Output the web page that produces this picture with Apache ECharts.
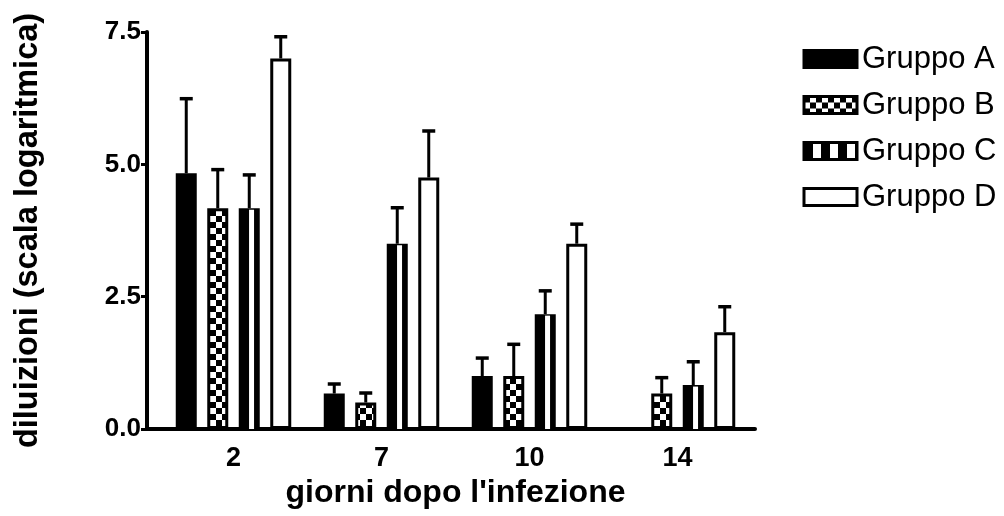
<!DOCTYPE html>
<html>
<head>
<meta charset="utf-8">
<script src="https://cdn.jsdelivr.net/npm/echarts@6/dist/echarts.min.js"></script>
<style>
  html, body { margin: 0; padding: 0; background: #fff; }
  #chart { width: 1004px; height: 516px; }
</style>
</head>
<body>
<div id="chart"></div>
<script>
// Giorni dopo l'infezione (categorie dell'asse x)
const categories = ['2', '7', '10', '14'];
const seriesNames = ['Gruppo A', 'Gruppo B', 'Gruppo C', 'Gruppo D'];

// Medie per gruppo (diluizioni, scala logaritmica)
const gruppoA = [4.83, 0.67, 1.0, 0];
const gruppoB = [4.17, 0.5, 1.0, 0.67];
const gruppoC = [4.17, 3.5, 2.17, 0.83];
const gruppoD = [7.0, 4.75, 3.5, 1.83];

// Errore (barra superiore) per gruppo
const erroreA = [1.41, 0.18, 0.34, 0];
const erroreB = [0.73, 0.18, 0.60, 0.30];
const erroreC = [0.63, 0.68, 0.44, 0.44];
const erroreD = [0.41, 0.88, 0.37, 0.48];

// Tacche dell'asse y
const yTicks = [0, 2.5, 5, 7.5];

const FONT = "'Liberation Sans', Arial, Helvetica, sans-serif";
const BAR_WIDTH = 21;
const BAR_GAP = 0.5;
const STEP = BAR_WIDTH * (1 + BAR_GAP);
const BORDER = 3;

// Riempimenti a motivo
function checkerPattern() {
  const c = document.createElement('canvas');
  c.width = 12; c.height = 12;
  const g = c.getContext('2d');
  g.fillStyle = '#fff'; g.fillRect(0, 0, 12, 12);
  g.fillStyle = '#000';
  g.fillRect(0, 0, 6, 6);
  g.fillRect(6, 6, 6, 6);
  return { image: c, repeat: 'repeat' };
}
function stripePattern() {
  const c = document.createElement('canvas');
  c.width = 17; c.height = 4;
  const g = c.getContext('2d');
  g.fillStyle = '#000'; g.fillRect(0, 0, 17, 4);
  g.fillStyle = '#fff'; g.fillRect(9, 0, 8, 4);
  return { image: c, repeat: 'repeat' };
}

const checker = checkerPattern();
const stripes = stripePattern();

const means = [gruppoA, gruppoB, gruppoC, gruppoD];
const errors = [erroreA, erroreB, erroreC, erroreD];
const fills = ['#000', checker, '#000', '#fff'];
const legendFills = ['#000', checker, stripes, '#fff'];

const barSeries = seriesNames.map((name, s) => ({
  name: name,
  type: 'bar',
  data: means[s],
  barWidth: BAR_WIDTH,
  barGap: (BAR_GAP * 100) + '%',
  itemStyle: { color: fills[s], borderColor: '#000', borderWidth: BORDER },
  emphasis: { disabled: true },
  z: 2
}));

// Striscia bianca interna delle colonne del Gruppo C
const stripeSeries = {
  name: 'stripeC',
  type: 'custom',
  data: gruppoC.map((v, i) => [i, v]),
  encode: { x: 0, y: 1 },
  z: 3,
  silent: true,
  renderItem: function (params, api) {
    const v = api.value(1);
    if (!(v > 0)) return null;
    const top = api.coord([api.value(0), v]);
    const base = api.coord([api.value(0), 0]);
    const cx = top[0] + 0.5 * STEP + 2.3;
    const y0 = top[1] + BORDER / 2;
    return {
      type: 'rect',
      shape: { x: cx - 2.5, y: y0, width: 5, height: Math.max(0, base[1] - y0) },
      style: { fill: '#fff' }
    };
  }
};

// Barre d'errore (solo verso l'alto)
const errData = [];
means.forEach((arr, s) => {
  arr.forEach((v, i) => {
    if (errors[s][i] > 0) errData.push([i, v, v + errors[s][i], s]);
  });
});
const errorSeries = {
  name: 'errori',
  type: 'custom',
  data: errData,
  encode: { x: 0, y: [1, 2] },
  z: 1,
  silent: true,
  renderItem: function (params, api) {
    const i = api.value(0);
    const base = api.coord([i, api.value(1)]);
    const top = api.coord([i, api.value(2)]);
    const x = base[0] + (api.value(3) - 1.5) * STEP;
    const style = { stroke: '#000', lineWidth: 3, fill: null };
    return {
      type: 'group',
      children: [
        { type: 'line', shape: { x1: x, y1: base[1], x2: x, y2: top[1] }, style: style },
        { type: 'line', shape: { x1: x - 6.5, y1: top[1], x2: x + 6.5, y2: top[1] },
          style: { stroke: '#000', lineWidth: 3.5 } }
      ]
    };
  }
};

const chart = echarts.init(document.getElementById('chart'), null, { renderer: 'canvas' });
chart.setOption({
  backgroundColor: '#fff',
  animation: false,
  textStyle: { fontFamily: FONT, color: '#000' },
  legend: {
    orient: 'vertical',
    left: 797.5,
    top: 38.5,
    icon: 'rect',
    itemWidth: 53,
    itemHeight: 17,
    itemGap: 15,
    itemTextGap: 11,
    selectedMode: false,
    textStyle: { fontFamily: FONT, fontSize: 31, lineHeight: 31, color: '#000' },
    data: seriesNames.map((name, s) => ({
      name: name,
      itemStyle: { color: legendFills[s], borderColor: '#000', borderWidth: BORDER }
    }))
  },
  grid: [
    { left: 159.5, right: 252.5, top: 32, bottom: 87 },
    { left: 147, right: 249, top: 32, bottom: 87 }
  ],
  xAxis: [
    {
      type: 'category',
      gridIndex: 0,
      data: categories,
      axisLine: { show: false },
      axisTick: { show: false },
      axisLabel: { fontFamily: FONT, fontSize: 27, fontWeight: 'bold', color: '#000', margin: 16 },
      name: "giorni dopo l'infezione",
      nameLocation: 'middle',
      nameGap: 46,
      nameTextStyle: { fontFamily: FONT, fontSize: 32, fontWeight: 'bold', color: '#000' }
    },
    {
      type: 'value',
      gridIndex: 1,
      min: 0,
      max: 1,
      axisLine: { show: true, lineStyle: { color: '#000', width: 4 } },
      axisTick: { show: false },
      axisLabel: { show: false },
      splitLine: { show: false }
    }
  ],
  yAxis: [
    {
      type: 'value',
      gridIndex: 0,
      min: yTicks[0],
      max: yTicks[yTicks.length - 1],
      interval: yTicks[1] - yTicks[0],
      offset: 12.5,
      axisLine: { show: true, lineStyle: { color: '#000', width: 4 } },
      axisTick: { show: true, length: 6, lineStyle: { color: '#000', width: 3 } },
      axisLabel: {
        fontFamily: FONT, fontSize: 26, fontWeight: 'bold', color: '#000', margin: 6,
        formatter: v => v.toFixed(1)
      },
      splitLine: { show: false },
      name: 'diluizioni (scala logaritmica)',
      nameLocation: 'middle',
      nameRotate: 90,
      nameGap: 102,
      nameTextStyle: { fontFamily: FONT, fontSize: 32.5, fontWeight: 'bold', color: '#000' }
    },
    { type: 'value', gridIndex: 1, min: 0, max: 1, show: false }
  ],
  series: barSeries.concat([errorSeries, stripeSeries])
});
</script>
</body>
</html>
